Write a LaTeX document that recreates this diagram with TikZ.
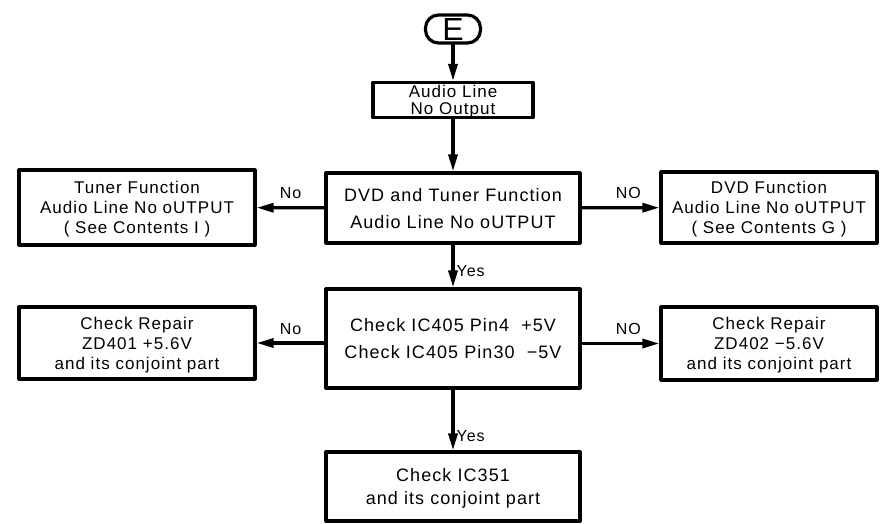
\documentclass[tikz,border=0pt]{standalone}
\usepackage{fontspec}
\setmainfont[LetterSpace=6]{Liberation Sans}
\usetikzlibrary{shapes, calc, arrows.meta}

\begin{document}
\begin{tikzpicture}[line cap=round,line join=round,>={Triangle[length=17pt,width=9pt]},x=1pt,y=-1pt]
\tikzset{box/.style={draw,line width=3.2pt,align=center,inner sep=0pt,text depth=-14pt,font=\fontsize{17}{20}\selectfont},
 link/.style={->,line width=3.2pt},
 lbl/.style={font=\fontsize{16}{18}\selectfont,inner sep=2pt}}
\useasboundingbox (0,0) rectangle (881,524);
\node[draw,line width=3.2pt,rounded corners=13pt,minimum width=55pt,minimum height=28pt,inner sep=0pt,font=\fontsize{32}{32}\selectfont] (E) at (453,29) {E};
\node[box,minimum width=160pt,minimum height=35pt,font=\fontsize{17}{17}\selectfont] (audio) at (453,100) {Audio Line\\No Output};
\node[box,minimum width=254pt,minimum height=70pt,font=\fontsize{18}{27}\selectfont] (dvdtuner) at (453,208) {DVD and Tuner Function\\Audio Line No oUTPUT};
\node[box,minimum width=236pt,minimum height=75pt] (tuner) at (137,207.5) {Tuner Function\\Audio Line No oUTPUT\\ ( See Contents I )};
\node[box,minimum width=216pt,minimum height=71pt] (dvd) at (769,207.5) {DVD Function\\Audio Line No oUTPUT\\ ( See Contents G )};
\node[box,minimum width=254pt,minimum height=99pt,font=\fontsize{18}{27}\selectfont] (check) at (453,338.5) {Check IC405 Pin4 \ +5V\\Check IC405 Pin30 \ −5V};
\node[box,minimum width=236pt,minimum height=72pt] (zdplus) at (137,343) {Check Repair\\ZD401 +5.6V\\and its conjoint part};
\node[box,minimum width=216pt,minimum height=73pt] (zdminus) at (769,343.5) {Check Repair\\ZD402 −5.6V\\and its conjoint part};
\node[box,minimum width=254pt,minimum height=69pt,font=\fontsize{18}{23}\selectfont] (ic) at (453,486.5) {Check IC351\\and its conjoint part};
\draw[link] (E) -- (audio);
\draw[link] (audio) -- (dvdtuner);
\draw[link] (dvdtuner) -- (tuner) node[lbl,midway,above=5pt] {No};
\draw[link] (dvdtuner) -- (dvd) node[lbl,pos=0.6,above=5pt] {NO};
\draw[link] (dvdtuner) -- (check) node[lbl,pos=0.62,right] {Yes};
\draw[link] (check.west |- zdplus.east) -- (zdplus.east) node[lbl,midway,above=5pt] {No};
\draw[link] (check.east |- zdminus.west) -- (zdminus.west) node[lbl,pos=0.6,above=5pt] {NO};
\draw[link] (check) -- (ic) node[lbl,pos=0.76,right] {Yes};
\end{tikzpicture}
\end{document}
